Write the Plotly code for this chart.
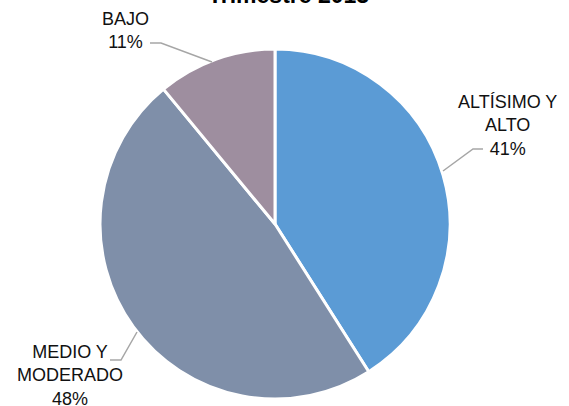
import plotly.graph_objects as go

labels = ["ALTÍSIMO Y ALTO", "MEDIO Y MODERADO", "BAJO"]
values = [41, 48, 11]
colors = ["#5B9BD5", "#7F8FA9", "#9E8E9F"]
title_text = "Trimestre 2013"

W, H = 569, 406

def px(x):
    return x / W

def py(y):
    return 1 - y / H

fig = go.Figure(go.Pie(
    labels=labels, values=values, sort=False, direction="clockwise",
    rotation=0, marker=dict(colors=colors, line=dict(color="white", width=3)),
    textinfo="none", hoverinfo="label+percent", showlegend=False,
    domain=dict(x=[px(100), px(450)], y=[py(399), py(49)]),
))

# outside labels (label text + percentage)
label_pos = [(507, 125), (70, 375), (125, 30)]
label_text = ["ALTÍSIMO Y<br>ALTO<br>{}%", "MEDIO Y<br>MODERADO<br>{}%", "BAJO<br>{}%"]
for (x, y), t, v in zip(label_pos, label_text, values):
    fig.add_annotation(x=px(x), y=py(y), xref="paper", yref="paper",
                       xanchor="center", yanchor="middle",
                       text=t.format(v), showarrow=False, align="center",
                       font=dict(family="Liberation Sans, Arial", size=18, color="#111111"))

leaders = [
    [(483, 149), (473, 149), (443, 171)],
    [(110, 360), (121, 360), (137, 332)],
    [(150, 43), (161, 43), (212, 62)],
]
for pts in leaders:
    path = "M " + " L ".join(f"{px(x)},{py(y)}" for x, y in pts)
    fig.add_shape(type="path", path=path, xref="paper", yref="paper",
                  line=dict(color="#A6A6A6", width=1.5))

# chart title (cut off at the top edge, as in the reference)
fig.add_annotation(x=px(288), y=1, xref="paper", yref="paper",
                   xanchor="center", yanchor="middle", yshift=5,
                   text="<b>" + title_text + "</b>", showarrow=False,
                   font=dict(family="Liberation Sans, Arial", size=23, color="black"))

fig.update_layout(
    width=W, height=H, margin=dict(l=0, r=0, t=0, b=0),
    paper_bgcolor="white", plot_bgcolor="white",
)

fig.write_html("out.html", config={"displayModeBar": False},
               post_script="document.body.style.margin='0';")
